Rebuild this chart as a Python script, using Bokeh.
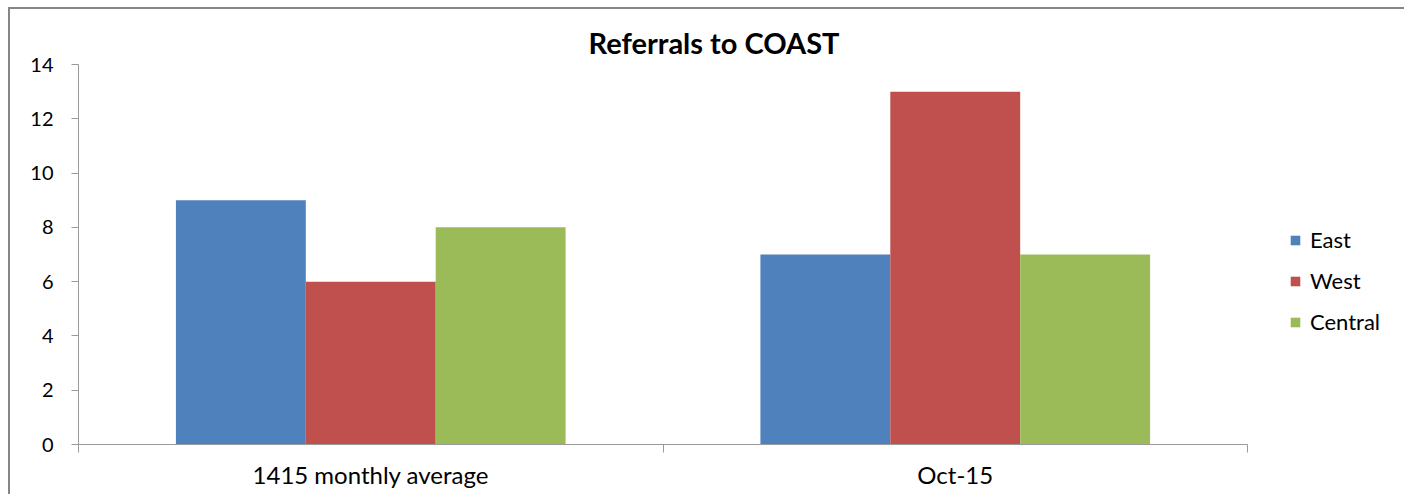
from bokeh.plotting import figure
from bokeh.models import (ColumnDataSource, FixedTicker, Legend, LegendItem, Range1d, Title)
from bokeh.transform import dodge
from bokeh.embed import file_html
from bokeh.resources import INLINE

categories = ["1415 monthly average", "Oct-15"]
series_names = ["East", "West", "Central"]
east = [9, 7]
west = [6, 13]
central = [8, 7]
colors = ["#4F81BD", "#C0504D", "#9BBB59"]
y_ticks = [0, 2, 4, 6, 8, 10, 12, 14]

centers = [i + 0.5 for i in range(len(categories))]
source = ColumnDataSource(dict(x=centers, East=east, West=west, Central=central))

FONT = "Lato"
AXIS_COLOR = "#9a9a9a"

p = figure(frame_width=1169, frame_height=380, output_backend="svg", toolbar_location=None,
           x_range=Range1d(0, len(categories)), y_range=Range1d(0, 14),
           min_border_left=68, min_border_right=150, min_border_top=55, min_border_bottom=50)
p.title = None
p.add_layout(Title(text="Referrals to COAST", align="left", offset=510,
                   text_font=FONT, text_font_size="29px", text_font_style="bold",
                   text_color="#000000", standoff=10), "above")

bw = 2 / 9
offsets = [-bw, 0, bw]
items = []
for name, off, col in zip(series_names, offsets, colors):
    r = p.vbar(x=dodge("x", off, range=p.x_range), top=name, width=bw, bottom=0,
               source=source, fill_color=col, line_color=None)
    items.append(LegendItem(label=name, renderers=[r]))

legend = Legend(items=items, location=(42, 109), orientation="vertical",
                label_text_font=FONT, label_text_font_size="22px", label_text_color="#000000",
                glyph_width=12, glyph_height=12, label_standoff=9,
                label_height=20, spacing=14, padding=0, margin=0,
                border_line_color=None, background_fill_alpha=0)
p.add_layout(legend, "right")

p.xgrid.visible = False
p.ygrid.visible = False
p.outline_line_color = None

# y axis
p.yaxis.ticker = FixedTicker(ticks=y_ticks)
p.yaxis.axis_line_color = AXIS_COLOR
p.yaxis.major_tick_line_color = AXIS_COLOR
p.yaxis.major_tick_out = 7
p.yaxis.major_tick_in = 0
p.yaxis.minor_tick_line_color = None
p.yaxis.major_label_standoff = 18
p.yaxis.major_label_text_font = FONT
p.yaxis.major_label_text_font_size = "20px"
p.yaxis.major_label_text_color = "#000000"

# x axis
p.xaxis.ticker = FixedTicker(ticks=centers, minor_ticks=list(range(len(categories) + 1)))
p.xaxis.major_label_overrides = {c: lab for c, lab in zip(centers, categories)}
p.xaxis.axis_line_color = AXIS_COLOR
p.xaxis.major_tick_line_color = None
p.xaxis.major_tick_out = 0
p.xaxis.major_tick_in = 0
p.xaxis.minor_tick_line_color = AXIS_COLOR
p.xaxis.minor_tick_out = 8
p.xaxis.minor_tick_in = 0
p.xaxis.major_label_standoff = 7
p.xaxis.major_label_text_font = FONT
p.xaxis.major_label_text_font_size = "24px"
p.xaxis.major_label_text_color = "#000000"

p.styles = {"border-top": "2px solid #868686", "border-left": "2px solid #868686",
            "margin-left": "8px", "margin-top": "7px"}

open("out.html", "w").write(file_html(p, INLINE))
